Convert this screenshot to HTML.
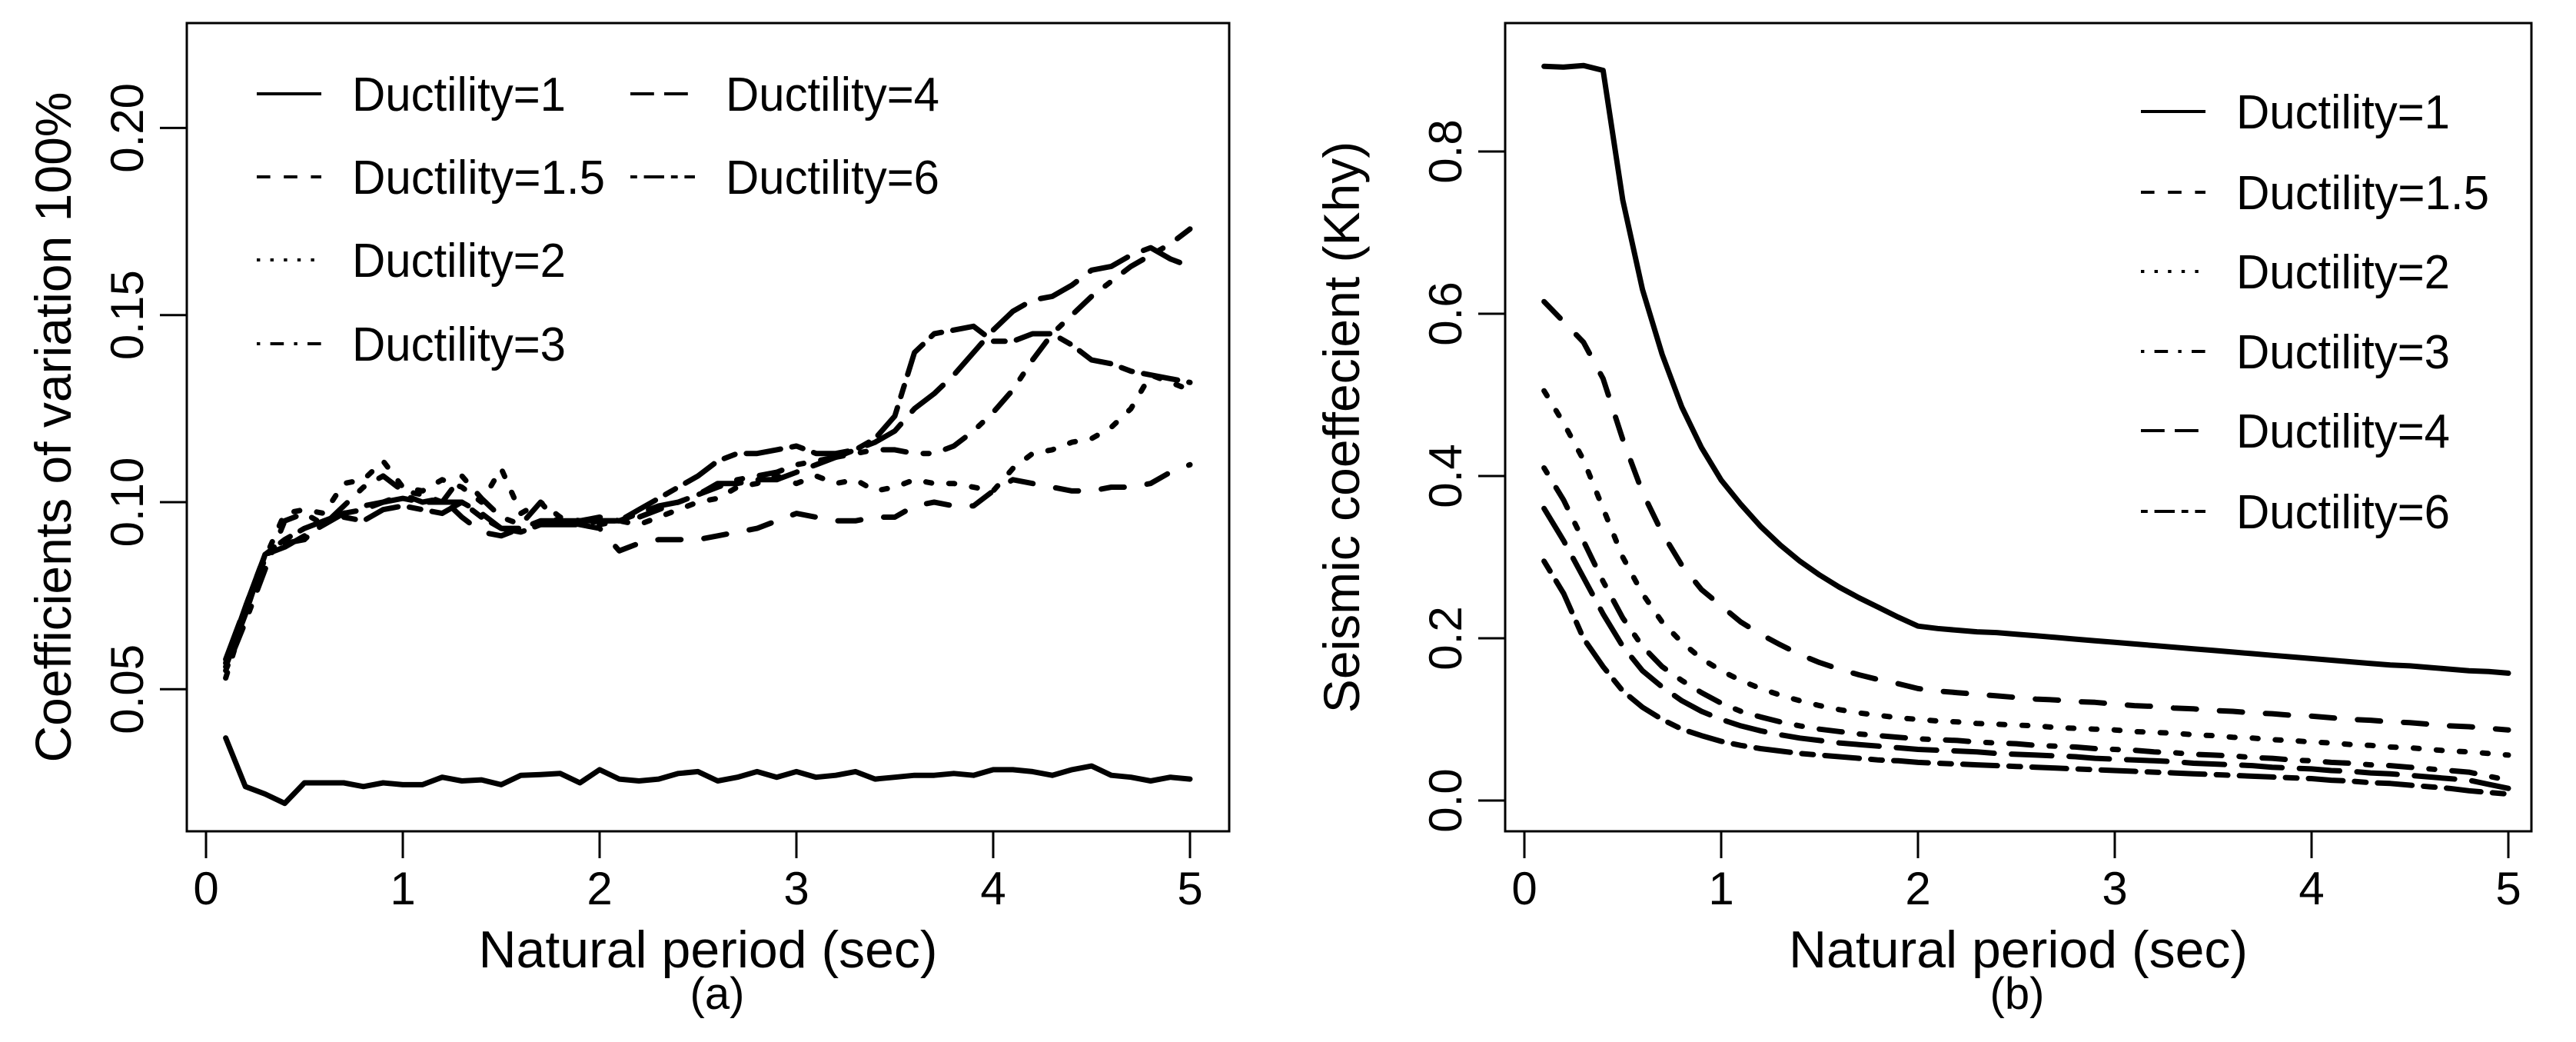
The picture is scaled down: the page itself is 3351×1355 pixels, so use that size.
<!DOCTYPE html>
<html><head><meta charset="utf-8"><style>
html,body{margin:0;padding:0;background:#fff}
svg{display:block}
text{font-family:"Liberation Sans",Arial,sans-serif;fill:#000}
</style></head><body>
<svg id="fig" width="3351" height="1355" viewBox="0 0 3351 1355" xmlns="http://www.w3.org/2000/svg"></svg>
<script>
// ---- data ----
const periods = [0.1,0.2,0.3,0.4,0.5,0.6,0.7,0.8,0.9,1.0,1.1,1.2,1.3,1.4,1.5,1.6,1.7,1.8,1.9,2.0,2.1,2.2,2.3,2.4,2.5,2.6,2.7,2.8,2.9,3.0,3.1,3.2,3.3,3.4,3.5,3.6,3.7,3.8,3.9,4.0,4.1,4.2,4.3,4.4,4.5,4.6,4.7,4.8,4.9,5.0];
const legendLabels = ["Ductility=1","Ductility=1.5","Ductility=2","Ductility=3","Ductility=4","Ductility=6"];
const xTicks = [0,1,2,3,4,5];
const yTicksA = [0.05,0.10,0.15,0.20];
const yTickLabelsA = ["0.05","0.10","0.15","0.20"];
const yTicksB = [0,0.2,0.4,0.6,0.8];
const yTickLabelsB = ["0.0","0.2","0.4","0.6","0.8"];

// panel (a): coefficients of variation
const covD1 = [0.037,0.024,0.022,0.0195,0.025,0.025,0.025,0.024,0.025,0.0245,
 0.0245,0.0265,0.0255,0.0258,0.0245,0.027,0.0272,0.0275,0.025,0.0285,
 0.026,0.0255,0.026,0.0275,0.028,0.0255,0.0265,0.028,0.0265,0.028,
 0.0265,0.027,0.028,0.026,0.0265,0.027,0.027,0.0275,0.027,0.0285,
 0.0285,0.028,0.027,0.0285,0.0295,0.027,0.0265,0.0255,0.0265,0.026];
const covD15 = [0.057,0.072,0.086,0.089,0.090,0.095,0.097,0.099,0.1,0.102,
 0.1,0.101,0.096,0.092,0.091,0.093,0.095,0.095,0.094,0.093,
 0.087,0.089,0.09,0.09,0.09,0.091,0.092,0.093,0.095,0.097,
 0.096,0.095,0.095,0.096,0.096,0.099,0.1,0.099,0.099,0.103,
 0.106,0.105,0.104,0.103,0.103,0.104,0.104,0.105,0.108,0.11];
const covD2 = [0.053,0.07,0.085,0.097,0.098,0.097,0.105,0.106,0.111,0.104,
 0.103,0.106,0.104,0.1,0.109,0.097,0.1,0.094,0.095,0.094,
 0.095,0.094,0.096,0.098,0.1,0.101,0.104,0.105,0.107,0.105,
 0.107,0.105,0.106,0.103,0.104,0.106,0.105,0.105,0.104,0.103,
 0.109,0.113,0.114,0.116,0.117,0.12,0.125,0.134,0.132,0.13];
const covD3 = [0.055,0.068,0.082,0.095,0.097,0.094,0.099,0.104,0.107,0.103,
 0.102,0.1,0.107,0.101,0.096,0.094,0.1,0.096,0.095,0.096,
 0.095,0.096,0.098,0.1,0.102,0.104,0.106,0.107,0.108,0.11,
 0.111,0.112,0.113,0.114,0.114,0.113,0.113,0.115,0.119,0.124,
 0.13,0.138,0.145,0.15,0.155,0.159,0.163,0.166,0.169,0.173];
const covD4 = [0.058,0.072,0.086,0.088,0.091,0.094,0.097,0.098,0.1,0.101,
 0.1,0.1,0.1,0.097,0.093,0.093,0.094,0.094,0.094,0.095,
 0.095,0.097,0.099,0.1,0.102,0.105,0.105,0.106,0.106,0.108,
 0.11,0.112,0.114,0.116,0.119,0.125,0.129,0.134,0.14,0.146,
 0.151,0.154,0.155,0.158,0.162,0.163,0.166,0.168,0.165,0.163];
const covD6 = [0.056,0.07,0.086,0.09,0.093,0.095,0.096,0.095,0.098,0.099,
 0.098,0.097,0.1,0.096,0.093,0.092,0.094,0.095,0.095,0.095,
 0.095,0.098,0.101,0.104,0.107,0.111,0.113,0.113,0.114,0.115,
 0.113,0.113,0.114,0.117,0.123,0.14,0.145,0.146,0.147,0.143,
 0.143,0.145,0.145,0.142,0.138,0.137,0.135,0.134,0.133,0.132];

// panel (b): seismic coefficient
const khyD1 = [0.905,0.904,0.906,0.9,0.74,0.63,0.55,0.485,0.435,0.395,
 0.365,0.338,0.315,0.295,0.278,0.263,0.25,0.238,0.226,0.215,
 0.212,0.21,0.208,0.207,0.205,0.203,0.201,0.199,0.197,0.195,
 0.193,0.191,0.189,0.187,0.185,0.183,0.181,0.179,0.177,0.175,
 0.173,0.171,0.169,0.167,0.166,0.164,0.162,0.160,0.159,0.157];
const khyD15 = [0.615,0.59,0.565,0.52,0.445,0.38,0.33,0.29,0.26,0.24,
 0.22,0.205,0.192,0.18,0.17,0.162,0.155,0.149,0.144,0.138,
 0.135,0.133,0.131,0.129,0.127,0.125,0.124,0.122,0.121,0.119,
 0.117,0.116,0.114,0.113,0.111,0.110,0.108,0.107,0.105,0.104,
 0.102,0.100,0.099,0.097,0.096,0.094,0.092,0.091,0.089,0.087];
const khyD2 = [0.505,0.465,0.42,0.36,0.3,0.255,0.22,0.195,0.175,0.16,
 0.148,0.138,0.13,0.123,0.117,0.112,0.108,0.105,0.102,0.1,
 0.098,0.097,0.095,0.094,0.093,0.092,0.090,0.089,0.088,0.087,
 0.085,0.084,0.083,0.081,0.080,0.078,0.077,0.075,0.074,0.072,
 0.071,0.069,0.068,0.066,0.065,0.063,0.061,0.06,0.058,0.056];
const khyD3 = [0.41,0.37,0.32,0.27,0.225,0.19,0.165,0.148,0.133,0.12,
 0.11,0.103,0.097,0.092,0.088,0.085,0.082,0.08,0.078,0.076,
 0.075,0.074,0.072,0.071,0.070,0.068,0.067,0.066,0.064,0.063,
 0.062,0.060,0.059,0.057,0.056,0.055,0.053,0.052,0.050,0.049,
 0.047,0.046,0.044,0.043,0.041,0.039,0.037,0.035,0.03,0.025];
const khyD4 = [0.36,0.32,0.275,0.23,0.19,0.16,0.14,0.123,0.11,0.1,
 0.092,0.086,0.081,0.077,0.074,0.071,0.069,0.067,0.065,0.063,
 0.062,0.061,0.06,0.058,0.057,0.056,0.055,0.054,0.052,0.051,
 0.050,0.049,0.048,0.046,0.045,0.044,0.043,0.041,0.040,0.039,
 0.037,0.036,0.034,0.033,0.031,0.029,0.027,0.025,0.02,0.015];
const khyD6 = [0.295,0.255,0.2,0.165,0.135,0.115,0.1,0.088,0.08,0.073,
 0.068,0.064,0.061,0.058,0.056,0.054,0.052,0.05,0.049,0.047,
 0.046,0.045,0.044,0.043,0.042,0.041,0.040,0.039,0.038,0.037,
 0.036,0.035,0.034,0.033,0.032,0.031,0.030,0.029,0.028,0.027,
 0.025,0.024,0.022,0.021,0.019,0.017,0.015,0.012,0.01,0.008];

// ---- drawing ----
const NS = "http://www.w3.org/2000/svg";
const svg = document.getElementById('fig');
const dashUnits = [null,[4,4],[1,3],[1,3,4,3],[7,3],[2,2,6,2]];
function mk(tag, attrs, parent){
  const e = document.createElementNS(NS, tag);
  for (const k in attrs) e.setAttribute(k, attrs[k]);
  (parent||svg).appendChild(e);
  return e;
}
function dash(i, u){ return dashUnits[i] ? dashUnits[i].map(d=>d*u).join(' ') : 'none'; }

function panel(cfg){
  const g = mk('g', {});
  
  
  const xs = v => cfg.x0 + v*cfg.xu;
  const ys = v => cfg.y0 - (v - cfg.yRef)*cfg.yu;
  // frame
  const fr = mk('rect', {x:cfg.L, y:cfg.T, width:cfg.R-cfg.L, height:cfg.B-cfg.T, fill:'none', stroke:'#000', 'stroke-width':3}, g);
  
  
  // x axis ticks
  xTicks.forEach(t=>{
    const tk = mk('line', {x1:xs(t), x2:xs(t), y1:cfg.B, y2:cfg.B+35, stroke:'#000','stroke-width':3}, g);
    
    
    const lb = mk('text', {x:xs(t), y:1176, 'font-size':60, 'text-anchor':'middle'}, g);
    lb.textContent = String(t);
    
    
  });
  // y axis ticks
  cfg.yTicks.forEach((t,i)=>{
    const y = ys(t);
    const tk = mk('line', {x1:cfg.L-35, x2:cfg.L, y1:y, y2:y, stroke:'#000','stroke-width':3}, g);
    
    
    const lb = mk('text', {x:0, y:0, 'font-size':60, 'text-anchor':'middle', transform:`translate(${cfg.L-57},${y}) rotate(-90)`}, g);
    lb.textContent = cfg.yLabels[i];
    
    
  });
  // series
  cfg.series.forEach((s,i)=>{
    const d = periods.map((p,j)=>(j?'L':'M')+xs(p).toFixed(1)+' '+ys(s[j]).toFixed(1)).join(' ');
    const pth = mk('path', {d:d, fill:'none', stroke:'#000', 'stroke-width':7, 'stroke-linejoin':'round', 'stroke-linecap':'round', 'stroke-dasharray':dash(i,7.5)}, g);
    
    
  });
  // axis titles
  const xt = mk('text', {x:(cfg.L+cfg.R)/2, y:1258, 'font-size':68, 'text-anchor':'middle'}, g);
  xt.textContent = 'Natural period (sec)';
  
  
  const yt = mk('text', {x:0, y:0, 'font-size':66, 'text-anchor':'middle', transform:`translate(${cfg.yTitleX},${(cfg.T+cfg.B)/2}) rotate(-90)`}, g);
  yt.textContent = cfg.yTitle;
  
  
  const cap = mk('text', {x:cfg.capX, y:1312, 'font-size':58, 'text-anchor':'middle'}, g);
  cap.textContent = cfg.caption;
  
  
  // legend
  const lg = mk('g', {}, g);
  
  
  cfg.legendPos.forEach((p,i)=>{
    const ln = mk('line', {x1:p[0], x2:p[0]+84, y1:p[1], y2:p[1], stroke:'#000', 'stroke-width':4, 'stroke-dasharray':dash(i,4.4)}, lg);
    
    
    const tx = mk('text', {x:p[0]+124, y:p[1]+22, 'font-size':62, textLength:(25.3*legendLabels[i].length).toFixed(0), lengthAdjust:'spacingAndGlyphs'}, lg);
    tx.textContent = legendLabels[i];
    
    
  });
}

panel({name:'panel-a-cov', L:243, R:1599, T:30, B:1081, x0:268, xu:256, y0:653, yRef:0.10, yu:4866,
  yTicks:yTicksA, yLabels:yTickLabelsA, series:[covD1,covD15,covD2,covD3,covD4,covD6],
  yTitle:'Coefficients of variation 100%', yTitleX:92, caption:'(a)', capX:933,
  legendPos:[[334,122],[334,230],[334,338],[334,447],[820,122],[820,230]]});
panel({name:'panel-b-seismic', L:1958, R:3293, T:30, B:1081, x0:1983, xu:256, y0:1041, yRef:0, yu:1055,
  yTicks:yTicksB, yLabels:yTickLabelsB, series:[khyD1,khyD15,khyD2,khyD3,khyD4,khyD6],
  yTitle:'Seismic coeffecient (Khy)', yTitleX:1768, caption:'(b)', capX:2624,
  legendPos:[[2785,145],[2785,250],[2785,353],[2785,457],[2785,560],[2785,665]]});
</script>
</body></html>
